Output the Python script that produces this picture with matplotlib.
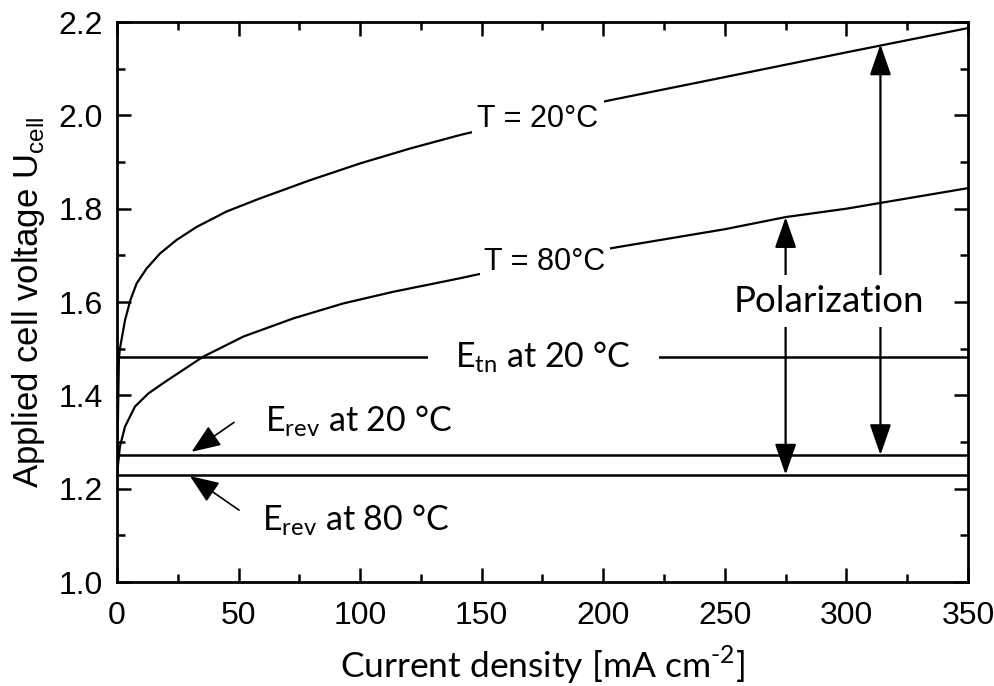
import matplotlib
matplotlib.use("Agg")
import matplotlib.pyplot as plt
from matplotlib.ticker import MultipleLocator

# polarization curves (current density in mA cm-2, voltage in V)
j_20 = [0, 0.3, 0.8, 1.2, 3.3, 5.5, 8.1, 12.2, 17.7, 24.5, 32.8, 45.1, 58.8,
        79.4, 100, 120.6, 141.2, 201.5, 250, 300, 350]
u_20 = [1.23, 1.32, 1.48, 1.50, 1.561, 1.604, 1.640, 1.672, 1.704, 1.733, 1.761,
        1.794, 1.822, 1.861, 1.897, 1.929, 1.958, 2.031, 2.082, 2.135, 2.187]

j_80 = [0, 1.2, 3.3, 7.4, 12.9, 19.8, 35.5, 52, 72.6, 93.1, 113.7, 141.2, 147.3,
        202.9, 250, 275, 300, 350]
u_80 = [1.23, 1.29, 1.333, 1.376, 1.404, 1.429, 1.483, 1.526, 1.565, 1.597, 1.622,
        1.651, 1.658, 1.715, 1.756, 1.782, 1.800, 1.844]

# reference voltage levels
e_tn_20 = 1.482
e_rev_20 = 1.272
e_rev_80 = 1.230

# polarization arrows: x position, bottom, top
pol_x = [275, 314]
pol_bottom = [e_rev_80, e_rev_20]
pol_top = [1.782, 2.152]

x_ticks = [0, 50, 100, 150, 200, 250, 300, 350]
y_ticks = [1.0, 1.2, 1.4, 1.6, 1.8, 2.0, 2.2]

ARIAL = ["Liberation Sans", "DejaVu Sans"]
CALIBRI = ["Lato", "DejaVu Sans"]

plt.rcParams["font.family"] = ARIAL
plt.rcParams["mathtext.fontset"] = "custom"

fig = plt.figure(figsize=(9.94, 6.86), dpi=100)
ax = fig.add_axes([0.1177, 0.1516, 0.8561, 0.8163])

ax.plot(j_20, u_20, color="black", lw=1.6, zorder=2)
ax.plot(j_80, u_80, color="black", lw=1.6, zorder=2)
for level in [e_tn_20, e_rev_20, e_rev_80]:
    ax.axhline(level, color="black", lw=1.8, zorder=2)

white = dict(facecolor="white", edgecolor="none")

ax.text(173, 1.974, "T = 20°C", fontsize=22, family=ARIAL, ha="center",
        va="baseline", bbox=dict(white, pad=4), zorder=4)
ax.text(176, 1.669, "T = 80°C", fontsize=22, family=ARIAL, ha="center",
        va="baseline", bbox=dict(white, pad=3), zorder=4)
ax.text(175.3, 1.461, r"E$_{\mathdefault{tn}}$ at 20 °C", fontsize=24.5,
        family=CALIBRI, ha="center", va="baseline",
        bbox=dict(white, pad=20), zorder=4)
ax.text(99.3, 1.322, r"E$_{\mathdefault{rev}}$ at 20 °C", fontsize=24.5,
        family=CALIBRI, ha="center", va="baseline", zorder=4)
ax.text(98, 1.110, r"E$_{\mathdefault{rev}}$ at 80 °C", fontsize=24.5,
        family=CALIBRI, ha="center", va="baseline", zorder=4)
ax.text(292.6, 1.579, "Polarization", fontsize=26.5, family=CALIBRI,
        ha="center", va="baseline", bbox=dict(white, pad=7), zorder=5)

# small arrows pointing at the reversible voltage lines
small = dict(arrowstyle="-|>,head_length=0.9,head_width=0.36", color="black",
             lw=1.2, shrinkA=0, shrinkB=0, mutation_scale=20)
ax.annotate("", xy=(30.7, 1.279), xytext=(48.1, 1.342), arrowprops=small, zorder=3)
ax.annotate("", xy=(30.0, 1.227), xytext=(50.2, 1.154), arrowprops=small, zorder=3)

# double headed polarization arrows
big = dict(arrowstyle="<|-|>,head_length=0.95,head_width=0.33", color="black",
           lw=1.6, shrinkA=0, shrinkB=0, mutation_scale=20)
for xp, lo, hi in zip(pol_x, pol_bottom, pol_top):
    ax.annotate("", xy=(xp, hi), xytext=(xp, lo), arrowprops=big, zorder=3)

ax.set_xlim(0, 350)
ax.set_ylim(1.0, 2.2)
ax.set_xticks(x_ticks)
ax.set_yticks(y_ticks)
ax.set_yticklabels([f"{v:.1f}" for v in y_ticks])
ax.xaxis.set_minor_locator(MultipleLocator(25))
ax.yaxis.set_minor_locator(MultipleLocator(0.1))
ax.tick_params(which="both", direction="in", top=True, right=True, width=1.8,
               labelsize=23)
ax.tick_params(which="major", length=10)
ax.tick_params(which="minor", length=6)
ax.tick_params(axis="x", pad=14)
ax.tick_params(axis="y", pad=10)
for sp in ax.spines.values():
    sp.set_linewidth(2.0)

ax.set_xlabel("Current density [mA cm$^{\\mathdefault{\u20102}}$]", fontsize=25.5,
              family=CALIBRI, labelpad=9)
ax.set_ylabel(r"Applied cell voltage U$_{\mathdefault{cell}}$", fontsize=25,
              family=ARIAL, labelpad=8)

fig.savefig("out.png", dpi=100)
